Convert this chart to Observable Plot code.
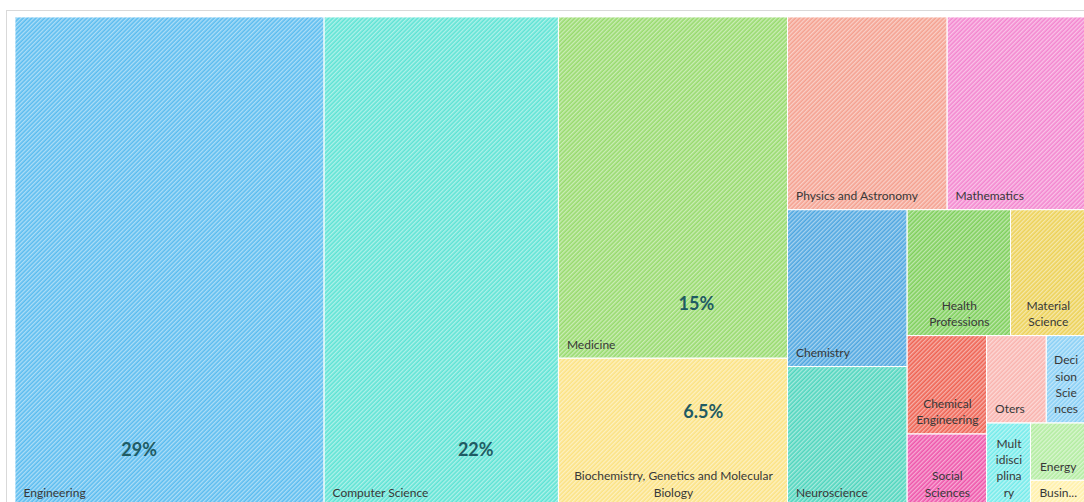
<!DOCTYPE html>
<html>
<head>
<meta charset="utf-8">
<script src="https://cdn.jsdelivr.net/npm/d3@7"></script>
<script src="https://cdn.jsdelivr.net/npm/@observablehq/plot@0.6"></script>
<style>
  body { margin: 0; background: #fff; overflow: hidden; }
  #wrap { position: relative; width: 1084px; height: 502px; overflow: hidden; }
  #frame { position: absolute; left: 6px; top: 10px; width: 1100px; height: 520px;
           border-top: 1px solid #d9d9d9; border-left: 1px solid #d9d9d9; }
  #chart { position: absolute; left: 0; top: 0; }
</style>
</head>
<body>
<div id="wrap"><div id="frame"></div><div id="chart"></div></div>
<script>
// ---- data ----
const categories = [
  "Engineering", "Computer Science", "Medicine",
  "Biochemistry, Genetics and Molecular Biology",
  "Physics and Astronomy", "Mathematics", "Chemistry", "Neuroscience",
  "Health Professions", "Material Science", "Chemical Engineering",
  "Social Sciences", "Oters", "Decision Sciences", "Multidisciplinary",
  "Energy", "Business"
];
const values = [29, 22, 15, 6.5, 5.9, 5.1, 3.6, 3.2, 2.5, 1.8, 1.5, 1.1, 1.0, 0.65, 0.7, 0.6, 0.27];
const cellLabels = [
  "Engineering", "Computer Science", "Medicine",
  "Biochemistry, Genetics and Molecular\nBiology",
  "Physics and Astronomy", "Mathematics", "Chemistry", "Neuroscience",
  "Health\nProfessions", "Material\nScience", "Chemical\nEngineering",
  "Social\nSciences", "Oters", "Deci\nsion\nScie\nnces", "Mult\nidisci\nplina\nry",
  "Energy", "Busin..."
];
const pctCategories = ["Engineering", "Computer Science", "Medicine", "Biochemistry, Genetics and Molecular Biology"];
const pctLabels = ["29%", "22%", "15%", "6.5%"];

// ---- styling / layout config ----
const colors = [
  "#5bbcef", "#5ee3d4", "#97da6d", "#fbe283",
  "#f4a08f", "#f386cf", "#4ea6e0", "#4fd5bd",
  "#7ecf5b", "#ecd157", "#ee6252", "#ee55aa",
  "#f9b3ae", "#88cff5", "#74ebea", "#b2eca0", "#fff0a8"
];
const centered = new Set([
  "Biochemistry, Genetics and Molecular Biology", "Health Professions", "Material Science",
  "Chemical Engineering", "Social Sciences", "Decision Sciences", "Multidisciplinary",
  "Energy", "Business"
]);
// relative position of the percentage labels inside their cells
const pctPos = [[0.40, 0.885], [0.645, 0.885], [0.60, 0.84], [0.63, 0.365]];

// tiling structure (slice = stacked top-to-bottom, dice = side by side)
const tree = {dir: "dice", children: [
  "Engineering", "Computer Science",
  {dir: "slice", children: ["Medicine", "Biochemistry, Genetics and Molecular Biology"]},
  {dir: "slice", children: [
    {dir: "dice", children: ["Physics and Astronomy", "Mathematics"]},
    {dir: "dice", children: [
      {dir: "slice", children: ["Chemistry", "Neuroscience"]},
      {dir: "slice", children: [
        {dir: "dice", children: ["Health Professions", "Material Science"]},
        {dir: "dice", children: [
          {dir: "slice", children: ["Chemical Engineering", "Social Sciences"]},
          {dir: "slice", children: [
            {dir: "dice", children: ["Oters", "Decision Sciences"]},
            {dir: "dice", children: ["Multidisciplinary", {dir: "slice", children: ["Energy", "Business"]}]}
          ]}
        ]}
      ]}
    ]}
  ]}
]};

const valueOf = new Map(categories.map((c, i) => [c, values[i]]));
const idx = new Map(categories.map((c, i) => [c, i]));

const root = d3.hierarchy(tree, d => typeof d === "object" ? d.children : null)
  .sum(d => typeof d === "string" ? valueOf.get(d) : 0);
d3.treemap()
  .size([1, 1])
  .tile((node, x0, y0, x1, y1) =>
    (node.data.dir === "slice" ? d3.treemapSlice : d3.treemapDice)(node, x0, y0, x1, y1))(root);

const cells = root.leaves().map(l => {
  const i = idx.get(l.data);
  return {name: l.data, x0: l.x0, x1: l.x1, y0: l.y0, y1: l.y1,
          color: colors[i], label: cellLabels[i]};
});
const cellOf = new Map(cells.map(c => [c.name, c]));
const pcts = pctCategories.map((c, i) => {
  const cell = cellOf.get(c);
  return {text: pctLabels[i],
          x: cell.x0 + pctPos[i][0] * (cell.x1 - cell.x0),
          y: cell.y0 + pctPos[i][1] * (cell.y1 - cell.y0)};
});

const startCells = cells.filter(c => !centered.has(c.name));
const midCells = cells.filter(c => centered.has(c.name));

const chart = Plot.plot({
  width: 1084,
  height: 502,
  margin: 0,
  x: {domain: [0, 1], range: [15, 1085], axis: null},
  y: {domain: [0, 1], range: [17, 506], axis: null},
  color: {type: "identity"},
  style: {fontFamily: "Lato, 'Open Sans', sans-serif", background: "transparent"},
  marks: [
    Plot.rect(cells, {x1: "x0", x2: "x1", y1: "y0", y2: "y1", fill: "color"}),
    Plot.rect(cells, {x1: "x0", x2: "x1", y1: "y0", y2: "y1", fill: () => "url(#hatch)",
                      stroke: "#ffffff", strokeWidth: 1, strokeOpacity: 0.85}),
    Plot.text(startCells, {x: "x0", y: "y1", text: "label", textAnchor: "start", lineAnchor: "bottom",
                           dx: 8, dy: -10, fontSize: 12, fill: "#383838", lineHeight: 1.36}),
    Plot.text(midCells, {x: d => (d.x0 + d.x1) / 2, y: "y1", text: "label", textAnchor: "middle",
                         lineAnchor: "bottom", dy: -10, fontSize: 12, fill: "#383838", lineHeight: 1.36}),
    Plot.text(pcts, {x: "x", y: "y", text: "text", textAnchor: "middle", lineAnchor: "middle",
                     fontSize: 18, fontWeight: "bold", fill: "#1f5b63"})
  ]
});

const defs = d3.select(chart).insert("defs", ":first-child");
defs.html(`<pattern id="hatch" patternUnits="userSpaceOnUse" width="3" height="3" patternTransform="rotate(45)">
  <rect x="0" y="0" width="1.4" height="3" fill="#ffffff" fill-opacity="0.5"></rect>
</pattern>`);

document.getElementById("chart").appendChild(chart);
</script>
</body>
</html>
